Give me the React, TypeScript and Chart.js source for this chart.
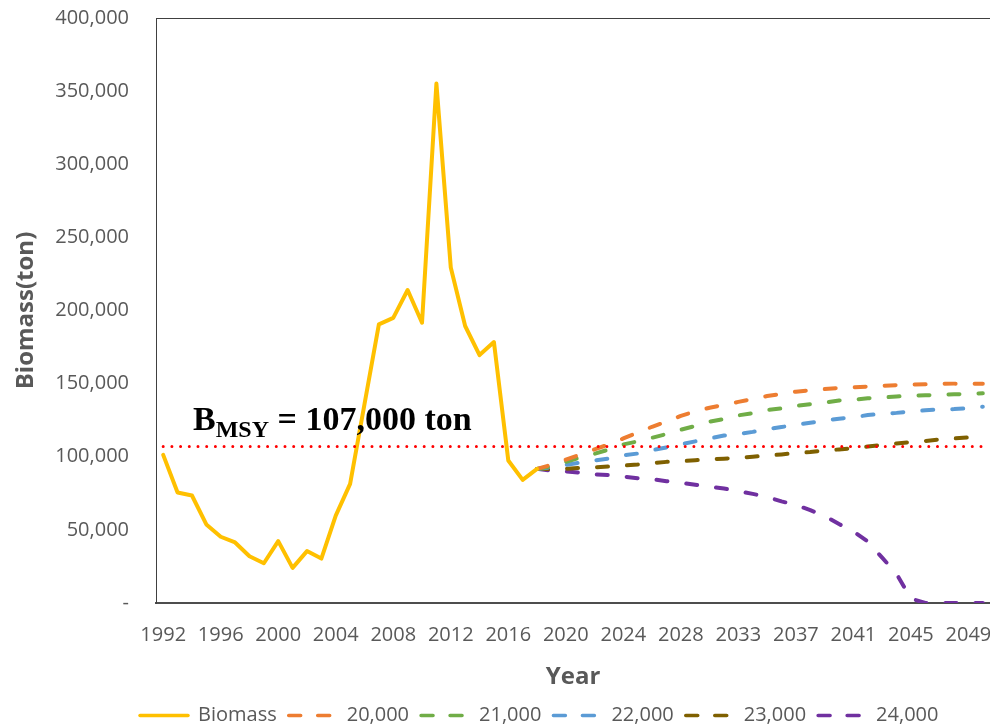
import { useEffect, useRef } from 'react';
import { Chart, registerables } from 'chart.js';

Chart.register(...registerables);

// Category axis: survey years followed by the projection horizon
const years = [
  1992, 1993, 1994, 1995, 1996, 1997, 1998, 1999, 2000, 2001, 2002, 2003, 2004,
  2005, 2006, 2007, 2008, 2009, 2010, 2011, 2012, 2013, 2014, 2015, 2016, 2017,
  2018, 2019, 2020, 2021, 2022, 2023, 2024, 2025, 2026, 2027, 2028, 2030, 2031,
  2032, 2033, 2034, 2035, 2036, 2037, 2038, 2039, 2040, 2041, 2042, 2043, 2044,
  2045, 2046, 2047, 2048, 2049, 2050,
];

// Estimated biomass (ton), 1992-2018
const biomass = [
  101300, 75500, 73500, 53700, 45300, 41400, 32000, 27200, 42300, 24000, 35500,
  30400, 59700, 81500, 136000, 190500, 195000, 214000, 191600, 355200, 229400,
  189400, 169500, 178400, 97400, 84200, 91700,
];

// Projections by annual catch (ton), starting in 2018
const projectionStartYear = 2018;
const catch20000 = [
  91700, 94500, 98000, 101500, 105000, 108500, 112500, 116500, 120500, 124000,
  128000, 131000, 133500, 135500, 137500, 139500, 141500, 143000, 144500, 145500,
  146300, 147000, 147500, 148000, 148500, 149000, 149300, 149500, 149800, 150000,
  150000, 150000,
];
const catch21000 = [
  91700, 93500, 96500, 99500, 102000, 105000, 108400, 110500, 113000, 115500,
  118500, 121000, 124000, 125800, 128300, 129800, 132000, 133000, 134800, 136000,
  137000, 138500, 139000, 140000, 140500, 141200, 141700, 142000, 142400, 142700,
  143000, 143400,
];
const catch22000 = [
  91700, 92800, 94500, 96000, 97400, 98800, 101000, 102200, 104500, 106300,
  108500, 110500, 112500, 114500, 115500, 117000, 118800, 120300, 121800, 123200,
  124700, 126000, 127000, 128500, 129300, 130000, 131000, 131800, 132300, 132600,
  133200, 134200,
];
const catch23000 = [
  91700, 91500, 91800, 92300, 92800, 93300, 94000, 94700, 95700, 96500, 97000,
  97600, 98200, 98700, 99300, 100000, 100800, 101600, 102500, 103200, 104300,
  105000, 105800, 107000, 108000, 109100, 110000, 110800, 111800, 112500, 113200,
  114000,
];
const catch24000 = [
  91700, 90500, 90000, 89000, 88000, 87500, 86500, 85300, 84700, 83300, 82300,
  80800, 79500, 78300, 76500, 74600, 72500, 69500, 67000, 63500, 59500, 54000,
  49000, 42000, 31000, 20000, 3000, 0, 0, 0, 0, 0,
];

const scenarioLabels = ['20,000', '21,000', '22,000', '23,000', '24,000'];
const scenarioColors = ['#ED7D31', '#70AD47', '#5B9BD5', '#7F6000', '#7030A0'];

// Biomass at maximum sustainable yield (ton)
const bmsyLevel = 107000;

const yTicks = { min: 0, max: 400000, step: 50000 };

const tickFont = { family: '"Open Sans", sans-serif', size: 20 };
const titleFont = { family: '"Open Sans", sans-serif', size: 24, weight: 'bold' as const };
const textGray = '#595959';
const frameGray = '#404040';

const projStart = years.indexOf(projectionStartYear);
const alignProjection = (vals: number[]) =>
  years.map((_, i) => (i < projStart ? null : vals[i - projStart]));

// Plot-area frame: top edge (left and bottom come from the axis borders)
const frameTop = {
  id: 'frameTop',
  beforeDatasetsDraw(chart: any) {
    const { ctx, chartArea } = chart;
    ctx.save();
    ctx.strokeStyle = frameGray;
    ctx.lineWidth = 1;
    ctx.beginPath();
    ctx.moveTo(chartArea.left, chartArea.top + 0.5);
    ctx.lineTo(chartArea.right, chartArea.top + 0.5);
    ctx.stroke();
    ctx.restore();
  },
};

// "B_MSY = 107,000 ton" label sitting on the reference line
const bmsyLabel = {
  id: 'bmsyLabel',
  afterDatasetsDraw(chart: any) {
    const { ctx, chartArea, scales } = chart;
    const yLine = scales.y.getPixelForValue(bmsyLevel);
    const baseline = yLine - 17;
    let x = chartArea.left + 37;
    ctx.save();
    ctx.fillStyle = '#000000';
    ctx.textBaseline = 'alphabetic';
    ctx.textAlign = 'left';
    ctx.font = 'bold 34px "Liberation Serif", "Times New Roman", serif';
    ctx.fillText('B', x, baseline);
    x += ctx.measureText('B').width;
    ctx.font = 'bold 24px "Liberation Serif", "Times New Roman", serif';
    ctx.fillText('MSY', x, baseline + 7);
    x += ctx.measureText('MSY').width;
    ctx.font = 'bold 34px "Liberation Serif", "Times New Roman", serif';
    ctx.fillText(` = ${bmsyLevel.toLocaleString('en-US')} ton`, x, baseline);
    ctx.restore();
  },
};

// Legend row sits below the axis title, starting under the y labels
const legendPlacement = {
  id: 'legendPlacement',
  afterLayout(chart: any) {
    const lg = chart.legend;
    if (!lg) return;
    lg.left = 128;
    lg.top += 11.5;
    lg.bottom += 11.5;
  },
};

export default function App() {
  const canvasRef = useRef<HTMLCanvasElement>(null);

  useEffect(() => {
    if (!canvasRef.current) return;
    const scenarioSeries = [catch20000, catch21000, catch22000, catch23000, catch24000];

    const chart = new Chart(canvasRef.current, {
      type: 'line',
      data: {
        labels: years.map(String),
        datasets: [
          {
            label: 'Biomass',
            data: biomass,
            borderColor: '#FFC000',
            backgroundColor: '#FFC000',
            borderWidth: 4,
            borderJoinStyle: 'round',
            borderCapStyle: 'round',
            pointRadius: 0,
            tension: 0,
          },
          ...scenarioSeries.map((vals, k) => ({
            label: scenarioLabels[k],
            data: alignProjection(vals),
            borderColor: scenarioColors[k],
            backgroundColor: scenarioColors[k],
            borderWidth: 4,
            borderDash: [11, 19],
            borderCapStyle: 'round' as const,
            borderJoinStyle: 'round' as const,
            pointRadius: 0,
            tension: 0,
          })),
          {
            label: 'BMSY',
            data: years.map(() => bmsyLevel),
            borderColor: '#FF0000',
            backgroundColor: '#FF0000',
            borderWidth: 3,
            borderDash: [0, 8.7],
            borderCapStyle: 'round',
            pointRadius: 0,
            tension: 0,
            order: -1,
          },
        ],
      },
      options: {
        responsive: false,
        animation: false,
        devicePixelRatio: 1,
        layout: { padding: { top: 18, right: 0, bottom: 0, left: 0 } },
        plugins: {
          tooltip: { enabled: false },
          legend: {
            position: 'bottom',
            align: 'start',
            labels: {
              usePointStyle: true,
              pointStyle: 'line',
              pointStyleWidth: 48,
              padding: 12,
              color: textGray,
              font: tickFont,
              filter: (item: any) => item.text !== 'BMSY',
              generateLabels: (chart: any) => {
                const items = Chart.defaults.plugins.legend.labels.generateLabels(chart);
                return items.map((it: any) => {
                  const ds = chart.data.datasets[it.datasetIndex];
                  const dashed = Array.isArray(ds.borderDash) && ds.borderDash.length > 0;
                  return {
                    ...it,
                    strokeStyle: ds.borderColor,
                    fillStyle: ds.borderColor,
                    lineWidth: 3.5,
                    lineCap: 'round',
                    lineDash: dashed ? [12, 17] : [],
                  };
                });
              },
            },
          },
        },
        scales: {
          x: {
            type: 'category',
            offset: true,
            grid: { display: false, drawTicks: false },
            border: { display: true, color: '#4d4d4d', width: 2 },
            ticks: {
              autoSkip: false,
              maxRotation: 0,
              minRotation: 0,
              padding: 20,
              color: textGray,
              font: tickFont,
              callback: (_v: any, i: number) => (i % 4 === 0 ? String(years[i]) : ''),
            },
            title: {
              display: true,
              text: 'Year',
              color: textGray,
              font: { ...titleFont, lineHeight: 0.4 },
              padding: { top: 0, bottom: 0 },
            },
            afterFit: (scale: any) => {
              scale.height = 79;
              scale.paddingLeft = 0;
              scale.paddingRight = 0;
            },
          },
          y: {
            min: yTicks.min,
            max: yTicks.max,
            grid: { display: false, drawTicks: false },
            border: { display: true, color: frameGray, width: 1 },
            ticks: {
              stepSize: yTicks.step,
              padding: 27,
              color: textGray,
              font: tickFont,
              callback: (v: any) => (Number(v) === 0 ? '-' : Number(v).toLocaleString('en-US')),
            },
            title: {
              display: true,
              text: 'Biomass(ton)',
              color: textGray,
              font: titleFont,
              padding: { top: 12, bottom: 0 },
            },
            afterFit: (scale: any) => {
              scale.width = 156;
              scale.paddingTop = 0;
              scale.paddingBottom = 0;
            },
          },
        },
      },
      plugins: [frameTop, bmsyLabel, legendPlacement],
    });

    return () => chart.destroy();
  }, []);

  return (
    <div
      style={{
        position: 'absolute',
        left: 0,
        top: 0,
        width: 990,
        height: 724,
        background: '#ffffff',
        overflow: 'hidden',
      }}
    >
      <canvas ref={canvasRef} width={990} height={724} style={{ display: 'block' }} />
    </div>
  );
}
